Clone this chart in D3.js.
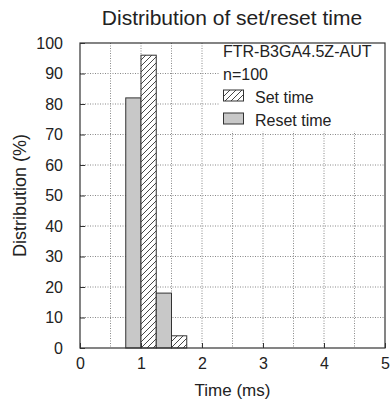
<!doctype html>
<html lang="en">
<head>
<meta charset="utf-8">
<title>Distribution of set/reset time</title>
<script src="https://cdn.jsdelivr.net/npm/d3@7"></script>
<style>
  body { margin: 0; background: #fff; }
  text { font-family: Arial, "Liberation Sans", sans-serif; fill: #222; }
</style>
</head>
<body>
<script>
// data
var binStarts = [0.75, 1.25];        // ms, each bin 0.5 wide: reset left half, set right half
var binWidth = 0.25;                 // width of one bar (ms)
var setValues = [96, 4];
var resetValues = [82, 18];
var xTicks = [0, 1, 2, 3, 4, 5];
var yTicks = [0, 10, 20, 30, 40, 50, 60, 70, 80, 90, 100];
var legendLines = ["FTR-B3GA4.5Z-AUT", "n=100"];

var W = 391, H = 407;
var margin = {top: 43, right: 6, bottom: 59, left: 80};
var w = W - margin.left - margin.right;
var h = H - margin.top - margin.bottom;

var x = d3.scaleLinear().domain([0, 5]).range([0, w]);
var y = d3.scaleLinear().domain([0, 100]).range([h, 0]);

var svg = d3.select("body").append("svg")
    .attr("width", W).attr("height", H);

var defs = svg.append("defs");
var pat = defs.append("pattern")
    .attr("id", "hatch")
    .attr("patternUnits", "userSpaceOnUse")
    .attr("width", 6).attr("height", 6);
pat.append("rect").attr("width", 6).attr("height", 6).attr("fill", "#fff");
pat.append("path")
    .attr("d", "M-1,1 l2,-2 M0,6 l6,-6 M5,7 l2,-2")
    .attr("stroke", "#333").attr("stroke-width", 0.9);

svg.append("text")
    .attr("x", 232).attr("y", 25)
    .attr("text-anchor", "middle")
    .style("font-size", "21px")
    .text("Distribution of set/reset time");

var g = svg.append("g")
    .attr("transform", "translate(" + margin.left + "," + margin.top + ")");

// grid
var grid = g.append("g").attr("stroke", "#888").attr("stroke-dasharray", "1,1.5");
d3.range(0.5, 5, 0.5).forEach(function(v) {
    grid.append("line").attr("x1", x(v)).attr("x2", x(v)).attr("y1", 0).attr("y2", h);
});
yTicks.slice(1, -1).forEach(function(v) {
    grid.append("line").attr("x1", 0).attr("x2", w).attr("y1", y(v)).attr("y2", y(v));
});

// legend background covers grid
g.append("rect")
    .attr("x", 140).attr("y", 0.5)
    .attr("width", w - 140).attr("height", 88)
    .attr("fill", "#fff");

// bars
var bars = [];
binStarts.forEach(function(s, i) {
    bars.push({x0: s, v: resetValues[i], fill: "#c8c8c8"});
    bars.push({x0: s + binWidth, v: setValues[i], fill: "url(#hatch)"});
});
g.selectAll("rect.bar").data(bars).enter().append("rect")
    .attr("class", "bar")
    .attr("x", d => x(d.x0))
    .attr("width", d => x(d.x0 + binWidth) - x(d.x0))
    .attr("y", d => y(d.v))
    .attr("height", d => y(0) - y(d.v))
    .attr("fill", d => d.fill)
    .attr("stroke", "#333").attr("stroke-width", 1);

// axes, ticks pointing inward
var xAxis = d3.axisBottom(x).tickValues(xTicks).tickFormat(d3.format("d"))
    .tickSizeInner(-5).tickSizeOuter(0).tickPadding(10);
var yAxis = d3.axisLeft(y).tickValues(yTicks)
    .tickSizeInner(-5).tickSizeOuter(0).tickPadding(17);

g.append("g").attr("transform", "translate(0," + h + ")").call(xAxis)
    .call(a => a.select(".domain").remove())
    .selectAll("text").style("font-size", "16px").style("fill", "#222");
g.append("g").call(yAxis)
    .call(a => a.select(".domain").remove())
    .selectAll("text").style("font-size", "16px").style("fill", "#222");
g.selectAll(".tick line").attr("stroke", "#333");

// frame
g.append("rect").attr("width", w).attr("height", h)
    .attr("fill", "none").attr("stroke", "#333").attr("stroke-width", 1.2);

// legend
var lg = g.append("g").attr("transform", "translate(143,0)");
legendLines.forEach(function(t, i) {
    lg.append("text").attr("x", 0).attr("y", 14 + i * 23)
        .style("font-size", "16px").text(t);
});
var items = [{label: "Set time", fill: "url(#hatch)"}, {label: "Reset time", fill: "#c8c8c8"}];
items.forEach(function(d, i) {
    var yy = 47 + i * 23;
    lg.append("rect").attr("x", 0.5).attr("y", yy).attr("width", 20).attr("height", 11)
        .attr("fill", d.fill).attr("stroke", "#333");
    lg.append("text").attr("x", 32).attr("y", yy + 13)
        .style("font-size", "16px").text(d.label);
});

// axis titles
svg.append("text")
    .attr("x", margin.left + w / 2).attr("y", 396)
    .attr("text-anchor", "middle")
    .style("font-size", "17px")
    .text("Time (ms)");
svg.append("text")
    .attr("transform", "translate(26," + (margin.top + h / 2) + ") rotate(-90)")
    .attr("text-anchor", "middle")
    .style("font-size", "18px")
    .text("Distribution (%)");
</script>
</body>
</html>
